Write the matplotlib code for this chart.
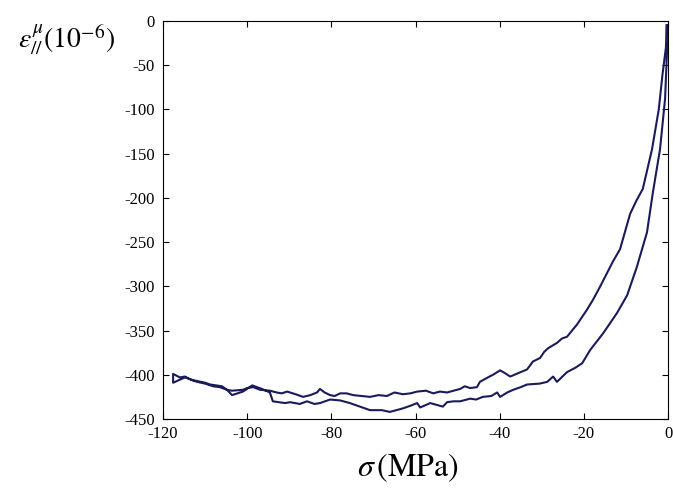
import numpy as np
import matplotlib.pyplot as plt

plt.rcParams.update({
    'font.family': 'serif',
    'font.serif': ['Liberation Serif', 'DejaVu Serif'],
    'mathtext.fontset': 'stix',
    'axes.unicode_minus': False,
    'xtick.direction': 'in',
    'ytick.direction': 'in',
    'xtick.top': True,
    'ytick.right': True,
})

# upper branch (0 -> -118 MPa)
sig_a = [-0.3, -0.5, -1.3, -2.2, -3.8, -6.0, -7.5, -9.0, -11.4, -13.1, -16.1, -17.8,
         -19.2, -21.6, -24.0, -25.2, -26.4, -28.5, -29.4, -30.4, -32.1, -33.5, -35.5,
         -37.5, -38.8, -39.9, -41.6, -43.2, -44.7, -45.4, -47.0, -48.3, -49.4, -51.0,
         -52.5, -54.2, -55.8, -57.5, -59.6, -61.2, -63.0, -65.0, -66.8, -68.8, -70.8,
         -72.8, -74.8, -76.4, -77.9, -79.2, -80.3, -81.6, -82.7, -83.4, -85.0, -86.7,
         -88.5, -90.5, -91.8, -93.0, -94.6, -96.9, -98.6, -100.0, -101.0, -103.6,
         -104.8, -106.5, -108.1, -110.0, -111.9, -113.2, -114.8, -116.0, -117.6]
eps_a = [-5, -30, -60, -100, -145, -190, -203, -218, -258, -272, -300, -315,
         -326, -343, -357, -359, -364, -370, -374, -381, -385, -394, -398,
         -402, -398, -395, -400, -404, -408, -414, -415, -413, -416, -418,
         -420, -419, -421, -418, -419, -421, -422, -420, -424, -423, -425,
         -424, -423, -421, -421, -424, -423, -420, -416, -420, -423, -425,
         -422, -419, -421, -420, -418, -417, -414, -415, -417, -418,
         -417, -414, -413, -410, -408, -406, -402, -403, -399]

# lower branch (-118 -> 0 MPa)
sig_b = [-117.6, -114.8, -112.9, -110.0, -108.8, -106.0, -104.8, -103.6, -101.0,
         -98.8, -96.5, -94.6, -93.9, -92.4, -91.0, -89.8, -87.5, -85.8, -84.0, -82.7,
         -80.3, -77.9, -75.6, -74.4, -73.2, -70.8, -68.0, -66.1, -64.5, -63.0, -61.2,
         -59.6, -58.9, -56.5, -55.0, -53.5, -52.5, -51.0, -49.4, -47.0, -45.6, -44.0,
         -42.0, -40.6, -39.9, -38.2, -36.8, -35.0, -33.5, -30.5, -28.7, -27.3, -26.4,
         -24.0, -22.0, -20.4, -18.5, -15.4, -12.1, -9.7, -7.4, -5.0, -3.6, -1.9,
         -0.7, -0.2, -0.3]
eps_b = [-409, -403, -406, -409, -411, -413, -417, -423, -419,
         -412, -416, -420, -430, -431, -432, -431, -433, -430, -433, -432,
         -428, -429, -432, -434, -436, -440, -440, -442, -440, -438, -435,
         -432, -437, -432, -434, -436, -431, -430, -430, -427, -428, -425,
         -424, -420, -425, -420, -417, -414, -411, -410, -408, -402, -408,
         -397, -392, -387, -372, -353, -330, -310, -278, -239, -194, -145,
         -88, -30, -5]

xticks = [-120, -100, -80, -60, -40, -20, 0]
yticks = [0, -50, -100, -150, -200, -250, -300, -350, -400, -450]

fig = plt.figure(figsize=(6.73, 4.88), dpi=100)
ax = fig.add_axes([0.2422, 0.1414, 0.7504, 0.8156])

ax.plot(np.concatenate([sig_a, sig_b]), np.concatenate([eps_a, eps_b]),
        color='#1b1b5c', lw=1.5)

ax.set_xlim(-120, 0)
ax.set_ylim(-450, 0)
ax.set_xticks(xticks)
ax.set_yticks(yticks)
ax.tick_params(labelsize=12, length=4, width=0.8)
ax.tick_params(axis='x', pad=5)
ax.tick_params(axis='y', pad=6)

fig.text(0.027, 0.918, r'$\varepsilon_{//}^{\mu}\left(10^{-6}\right)$', fontsize=20,
         va='center', ha='left')
fig.text(0.606, 0.041, r'$\sigma\,\left(\mathrm{MPa}\right)$', fontsize=23,
         va='center', ha='center')

plt.savefig('out.png', dpi=100)
